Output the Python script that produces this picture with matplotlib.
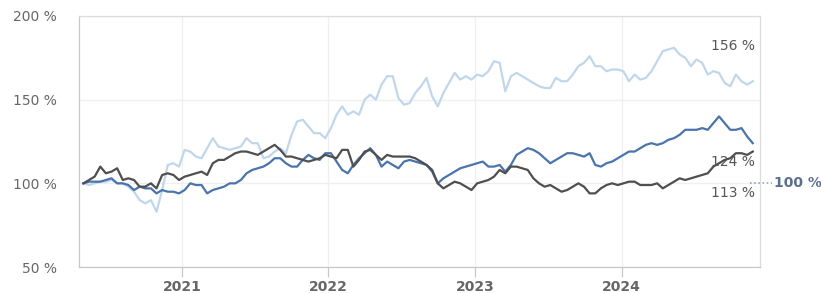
import pandas as pd
import matplotlib.pyplot as plt

# biweekly index, May 2020 - Nov 2024
dates = pd.date_range("2020-05-01", periods=120, freq="14D")

light = [100, 99, 100, 101, 101, 102, 100, 100, 98, 95,
         90, 88, 90, 83, 96, 111, 112, 110, 120, 119,
         116, 115, 121, 127, 122, 121, 120, 121, 122, 127,
         124, 124, 115, 116, 119, 121, 118, 129, 137, 138,
         134, 130, 130, 127, 133, 141, 146, 141, 143, 141,
         150, 153, 150, 159, 164, 164, 151, 147, 148, 154,
         158, 163, 152, 146, 154, 160, 166, 162, 164, 162,
         165, 164, 167, 173, 172, 155, 164, 166, 164, 162,
         160, 158, 157, 157, 163, 161, 161, 165, 170, 172,
         176, 170, 170, 167, 168, 168, 167, 161, 165, 162,
         163, 167, 173, 179, 180, 181, 177, 175, 170, 174,
         172, 165, 167, 166, 160, 158, 165, 161, 159, 161]

blue = [100, 101, 101, 101, 102, 103, 100, 100, 99, 96,
        98, 97, 97, 94, 96, 95, 95, 94, 96, 100,
        99, 99, 94, 96, 97, 98, 100, 100, 102, 106,
        108, 109, 110, 112, 115, 115, 112, 110, 110, 114,
        117, 115, 114, 118, 118, 113, 108, 106, 111, 115,
        118, 121, 117, 110, 113, 111, 109, 113, 114, 113,
        112, 111, 107, 100, 103, 105, 107, 109, 110, 111,
        112, 113, 110, 110, 111, 107, 111, 117, 119, 121,
        120, 118, 115, 112, 114, 116, 118, 118, 117, 116,
        118, 111, 110, 112, 113, 115, 117, 119, 119, 121,
        123, 124, 123, 124, 126, 127, 129, 132, 132, 132,
        133, 132, 136, 140, 136, 132, 132, 133, 128, 124]

gray = [100, 102, 104, 110, 106, 107, 109, 102, 103, 102,
        98, 98, 100, 97, 105, 106, 105, 102, 104, 105,
        106, 107, 105, 112, 114, 114, 116, 118, 119, 119,
        118, 117, 119, 121, 123, 120, 116, 116, 115, 114,
        113, 114, 115, 117, 116, 115, 120, 120, 110, 114,
        119, 120, 117, 114, 117, 116, 116, 116, 116, 115,
        113, 111, 108, 100, 97, 99, 101, 100, 98, 96,
        100, 101, 102, 104, 108, 106, 110, 110, 109, 108,
        103, 100, 98, 99, 97, 95, 96, 98, 100, 98,
        94, 94, 97, 99, 100, 99, 100, 101, 101, 99,
        99, 99, 100, 97, 99, 101, 103, 102, 103, 104,
        105, 106, 110, 112, 114, 115, 118, 118, 117, 119]

end_labels = ["156 %", "124 %", "113 %"]
years = ["2021", "2022", "2023", "2024"]
y_ticks = [50, 100, 150, 200]

fig = plt.figure(figsize=(8.21, 2.93), dpi=100)
ax = fig.add_axes([0.0962, 0.0887, 0.8295, 0.8567])

ax.plot(dates, light, color="#c0d7eb", lw=1.6, zorder=2)
ax.plot(dates, blue, color="#4a74ab", lw=1.6, zorder=3)
ax.plot(dates, gray, color="#4f4f4f", lw=1.6, zorder=4)

ax.set_ylim(50, 200)
ax.set_xlim(pd.Timestamp("2020-04-20"), pd.Timestamp("2024-12-10"))
ax.set_yticks(y_ticks)
ax.set_yticklabels([f"{v} %" for v in y_ticks])
ax.set_xticks([pd.Timestamp(f"{y}-01-01") for y in years])
ax.set_xticklabels(years)

ax.grid(True, color="#efefef", lw=0.9, zorder=0)
for sp in ax.spines.values():
    sp.set_color("#dcdcdc")
    sp.set_linewidth(0.9)
ax.spines["left"].set_color("#c8c8c8")
ax.spines["bottom"].set_color("#c8c8c8")
ax.tick_params(axis="y", length=0, pad=16, labelsize=10, labelcolor="#666666")
ax.tick_params(axis="x", length=7, width=0.9, color="#c8c8c8", pad=2,
               labelsize=10, labelcolor="#666666")
for lbl in ax.get_xticklabels():
    lbl.set_fontweight("semibold")

# end labels sit in their own slots at the right edge
x_end = pd.Timestamp("2024-11-28")
for txt, yv in zip(end_labels, [182, 113, 94]):
    ax.text(x_end, yv, txt, ha="right", va="center", fontsize=10,
            color="#555555", zorder=5)

# reference line marker at the right edge
ax.plot([0.985, 1.018], [100, 100], transform=ax.get_yaxis_transform(),
        clip_on=False, ls=(0, (1, 1.5)), color="#8fa3bf", lw=1.2)
ax.text(1.021, 100, "100 %", transform=ax.get_yaxis_transform(),
        ha="left", va="center", fontsize=10, fontweight="semibold",
        color="#5b6f8c")

fig.savefig("out.png", dpi=100)
